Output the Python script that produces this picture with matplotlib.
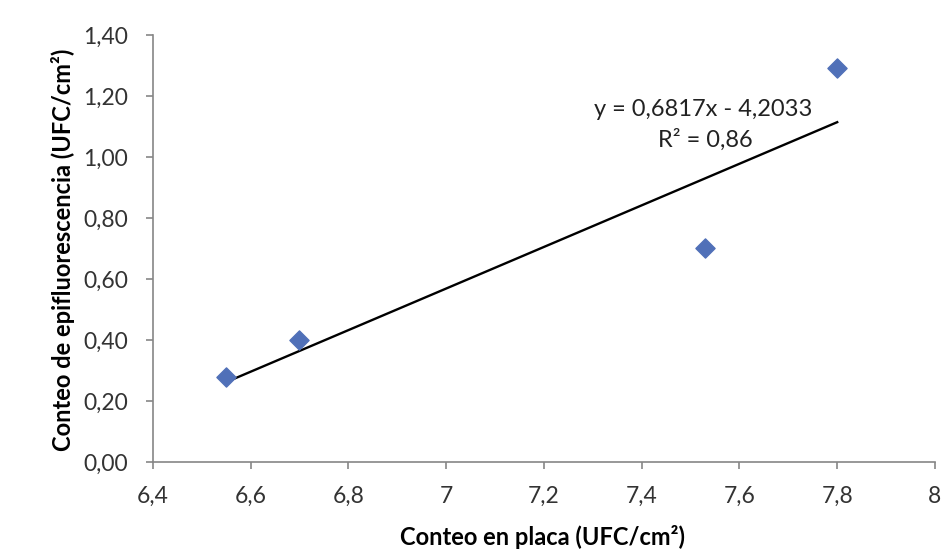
import numpy as np
import matplotlib.pyplot as plt

# data
placa = [6.55, 6.70, 7.53, 7.80]
epifluor = [0.28, 0.40, 0.70, 1.29]
slope = 0.6817
intercept = -4.2033
r2_text = "0,86"
xticks = [6.4, 6.6, 6.8, 7.0, 7.2, 7.4, 7.6, 7.8, 8.0]
xtick_labels = ['6,4', '6,6', '6,8', '7', '7,2', '7,4', '7,6', '7,8', '8']
yticks = [0.0, 0.2, 0.4, 0.6, 0.8, 1.0, 1.2, 1.4]
ytick_labels = ['0,00', '0,20', '0,40', '0,60', '0,80', '1,00', '1,20', '1,40']

plt.rcParams['font.family'] = ['Lato', 'DejaVu Sans']

fig = plt.figure(figsize=(9.43, 5.54), dpi=100)
ax = fig.add_axes([0.162, 0.166, 0.8295, 0.771])

ax.scatter(placa, epifluor, marker='D', s=95, color='#5070B8', zorder=3)

xl = np.array([min(placa), max(placa)])
ax.plot(xl, slope * xl + intercept, color='black', lw=1.7, zorder=2)

ax.text(7.525, 1.155, 'y = 0,6817x - 4,2033', ha='center', va='center', fontsize=17, color='#222222')
ax.text(7.53, 1.057, 'R² = ' + r2_text, ha='center', va='center', fontsize=17, color='#222222')

ax.set_xlim(6.4, 8.0)
ax.set_ylim(0, 1.4)
ax.set_xticks(xticks)
ax.set_xticklabels(xtick_labels)
ax.set_yticks(yticks)
ax.set_yticklabels(ytick_labels)

for s in ['top', 'right']:
    ax.spines[s].set_visible(False)
for s in ['left', 'bottom']:
    ax.spines[s].set_color('#868686')
    ax.spines[s].set_linewidth(1.2)
ax.tick_params(axis='both', colors='#868686', length=5, width=1.2, labelsize=16.5,
               labelcolor='#333333', direction='out')
ax.tick_params(axis='x', pad=12)
ax.tick_params(axis='y', pad=13)

ax.set_xlabel('Conteo en placa (UFC/cm²)', fontsize=17, fontweight='bold', va='center')
ax.set_ylabel('Conteo de epifluorescencia (UFC/cm²)', fontsize=17, fontweight='bold', va='center')
ax.xaxis.set_label_coords(0.5 + (543 - 544) / 782, (462 - 537) / 427)
ax.yaxis.set_label_coords((63 - 153) / 782, 0.5 + (462 - 250 - 213.5) / 427)

fig.savefig('out.png', dpi=100)
